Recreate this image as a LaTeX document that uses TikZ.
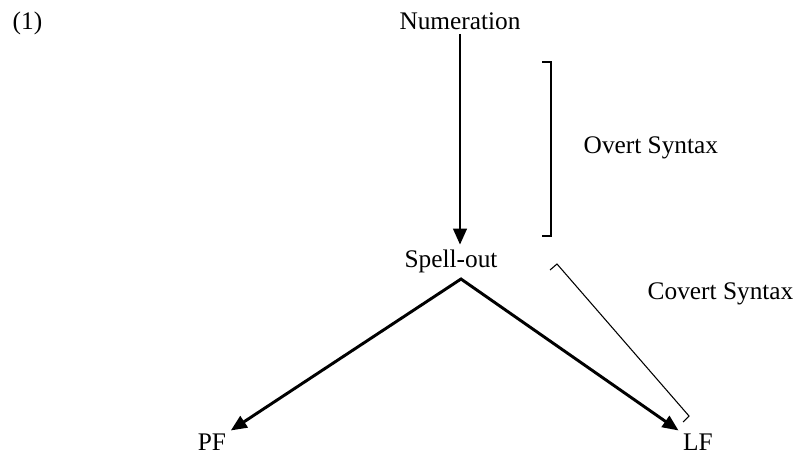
\documentclass[tikz,border=0pt]{standalone}
\usepackage{fontspec}
\setmainfont{Liberation Serif}
\usetikzlibrary{arrows.meta}
\tikzset{bigtip/.tip={Triangle[length=12pt,width=10pt]}}

\begin{document}
\begin{tikzpicture}[x=0.75pt,y=-0.75pt,
		lbl/.style={anchor=base,font=\fontsize{19}{23}\selectfont},
		arr/.style={line width=2.2pt,-bigtip},
		brk/.style={line width=0.8pt}]
		%%%%% START %%%%%
		
		\useasboundingbox (0,0) rectangle (795,454);
		
		\node[lbl,anchor=base west] (ex) at (8,29) {(1)};
		\node[lbl] (num) at (460,29) {Numeration};
		\node[lbl] (spell) at (451,267) {Spell-out};
		\node[lbl,inner ysep=2pt] (pf) at (212,450) {PF};
		\node[lbl,inner ysep=2pt] (lf) at (698,450) {LF};
		\node[lbl,anchor=base west] (overt) at (579,153) {Overt Syntax};
		\node[lbl,anchor=base west] (covert) at (643,299) {Covert Syntax};
		
		\coordinate (split) at (461,279);
		
		\draw[arr] (num.south) -- (num.south |- spell.north);
		\draw[arr,bigtip-bigtip,line join=miter] (pf.north east) -- (split) -- (lf.north west);
		
		\draw[brk] (542,62) -- (551,62) -- (551,236) -- (542,236);
		\draw[brk] (550,270) -- (557,264) -- (689,416) -- (683,422);
		
		%%%%% END %%%%%
	\end{tikzpicture}
\end{document}
